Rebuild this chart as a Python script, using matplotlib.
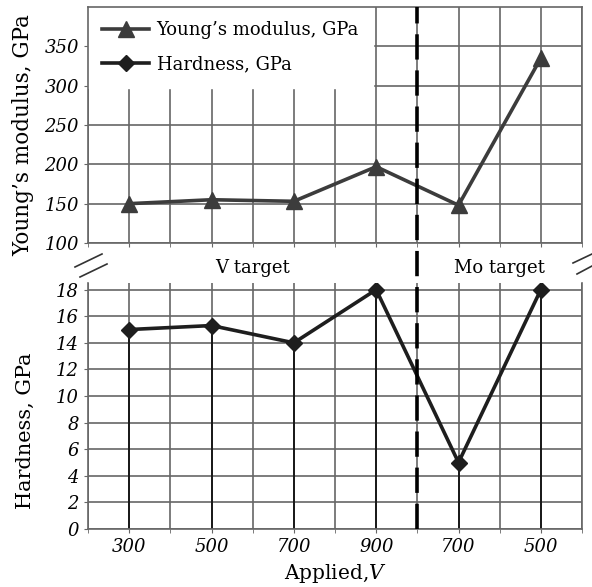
import matplotlib
matplotlib.use("Agg")
import matplotlib.pyplot as plt
from matplotlib.lines import Line2D
import matplotlib.transforms as mtransforms
import numpy as np

categories = ["300", "500", "700", "900", "700", "500"]
youngs = [150, 155, 153, 197, 148, 335]
hardness = [15.0, 15.3, 14.0, 18.0, 5.0, 18.0]
young_ticks = [100, 150, 200, 250, 300, 350]
hard_ticks = [0, 2, 4, 6, 8, 10, 12, 14, 16, 18]
group_labels = ["V target", "Mo target"]

plt.rcParams['font.family'] = ['DejaVu Serif']
plt.rcParams['mathtext.fontset'] = 'dejavuserif'

GRID = '#666666'
W, H = 592, 587
fig = plt.figure(figsize=(W / 100, H / 100), dpi=100)

def fx(px):
    return px / W

def fy(py):
    return 1 - py / H

ax_t = fig.add_axes([fx(88), fy(243), fx(582 - 88), fy(7) - fy(243)])
ax_b = fig.add_axes([fx(88), fy(529), fx(582 - 88), fy(283) - fy(529)])

x = np.arange(len(categories))
minor_x = np.arange(-0.5, len(categories), 0.5)

for ax in (ax_t, ax_b):
    ax.set_xlim(-0.5, len(categories) - 0.5)
    ax.set_xticks(x)
    ax.set_xticks(minor_x, minor=True)
    ax.grid(True, which='both', axis='x', color=GRID, lw=1.2, zorder=0)
    ax.grid(True, which='major', axis='y', color=GRID, lw=1.2, zorder=0)
    for s in ax.spines.values():
        s.set_color(GRID)
        s.set_linewidth(1.2)
    ax.tick_params(which='both', direction='out', length=3, color=GRID,
                   labelsize=13)
    ax.set_axisbelow(True)

# Top axes: Young's modulus
ax_t.set_ylim(100, 400)
ax_t.set_yticks(young_ticks)
ax_t.set_yticklabels([str(v) for v in young_ticks], fontstyle='italic')
ax_t.tick_params(axis='x', labelbottom=False)
ax_t.plot(x, youngs, color='#3c3c3c', lw=2.6, marker='^', ms=11,
          label='Young\u2019s modulus, GPa', zorder=3)
ax_t.plot([], [], color='#1e1e1e', lw=2.6, marker='D', ms=8,
          label='Hardness, GPa')
leg = ax_t.legend(loc='upper left', fontsize=13, frameon=True, fancybox=False,
                  borderaxespad=0, handlelength=2.6, labelspacing=0.9,
                  borderpad=0.8, handletextpad=0.4)
leg.get_frame().set_facecolor('white')
leg.get_frame().set_edgecolor('white')
leg.get_frame().set_alpha(1)
leg.set_zorder(2)
ax_t.set_ylabel('Young\u2019s modulus, GPa', fontsize=15.5)

# Bottom axes: Hardness
ax_b.set_ylim(0, 18.5)
ax_b.set_yticks(hard_ticks)
ax_b.set_yticklabels([str(v) for v in hard_ticks], fontstyle='italic')
ax_b.set_xticklabels(categories, fontstyle='italic')
ax_b.spines['top'].set_visible(False)
ax_b.vlines(x, 0, hardness, color='#111111', lw=1.3, zorder=2)
ax_b.plot(x, hardness, color='#1e1e1e', lw=2.6, marker='D', ms=8, zorder=3)
ax_b.set_ylabel('Hardness, GPa', fontsize=15)
ax_b.set_xlabel('Applied,$V$', fontsize=14.5, labelpad=4)

# y label positions
ax_t.yaxis.set_label_coords(-0.108, 0.458)
ax_b.yaxis.set_label_coords(-0.108, 0.40)

# dashed separator spanning both panels
sep_x = 3.5
trans = mtransforms.blended_transform_factory(ax_t.transData, fig.transFigure)
fig.add_artist(Line2D([sep_x, sep_x], [fy(529), fy(7)], transform=trans,
                      color='black', lw=2.6, dashes=(7, 3), zorder=5))

# group labels in the gap
tg = mtransforms.blended_transform_factory(ax_t.transData, fig.transFigure)
fig.text(1.5, fy(268), group_labels[0], transform=tg, ha='center', va='center',
         fontsize=13)
fig.text(4.5, fy(268), group_labels[1], transform=tg, ha='center', va='center',
         fontsize=13)

# axis break marks
for (x0, y0, x1, y1) in [(75, 267, 102, 254), (80, 277, 107, 264),
                         (573, 263, 592, 254), (577, 274, 592, 266)]:
    fig.add_artist(Line2D([fx(x0), fx(x1)], [fy(y0), fy(y1)],
                          transform=fig.transFigure, color='#333333', lw=1.2))

fig.savefig('out.png', dpi=100)
